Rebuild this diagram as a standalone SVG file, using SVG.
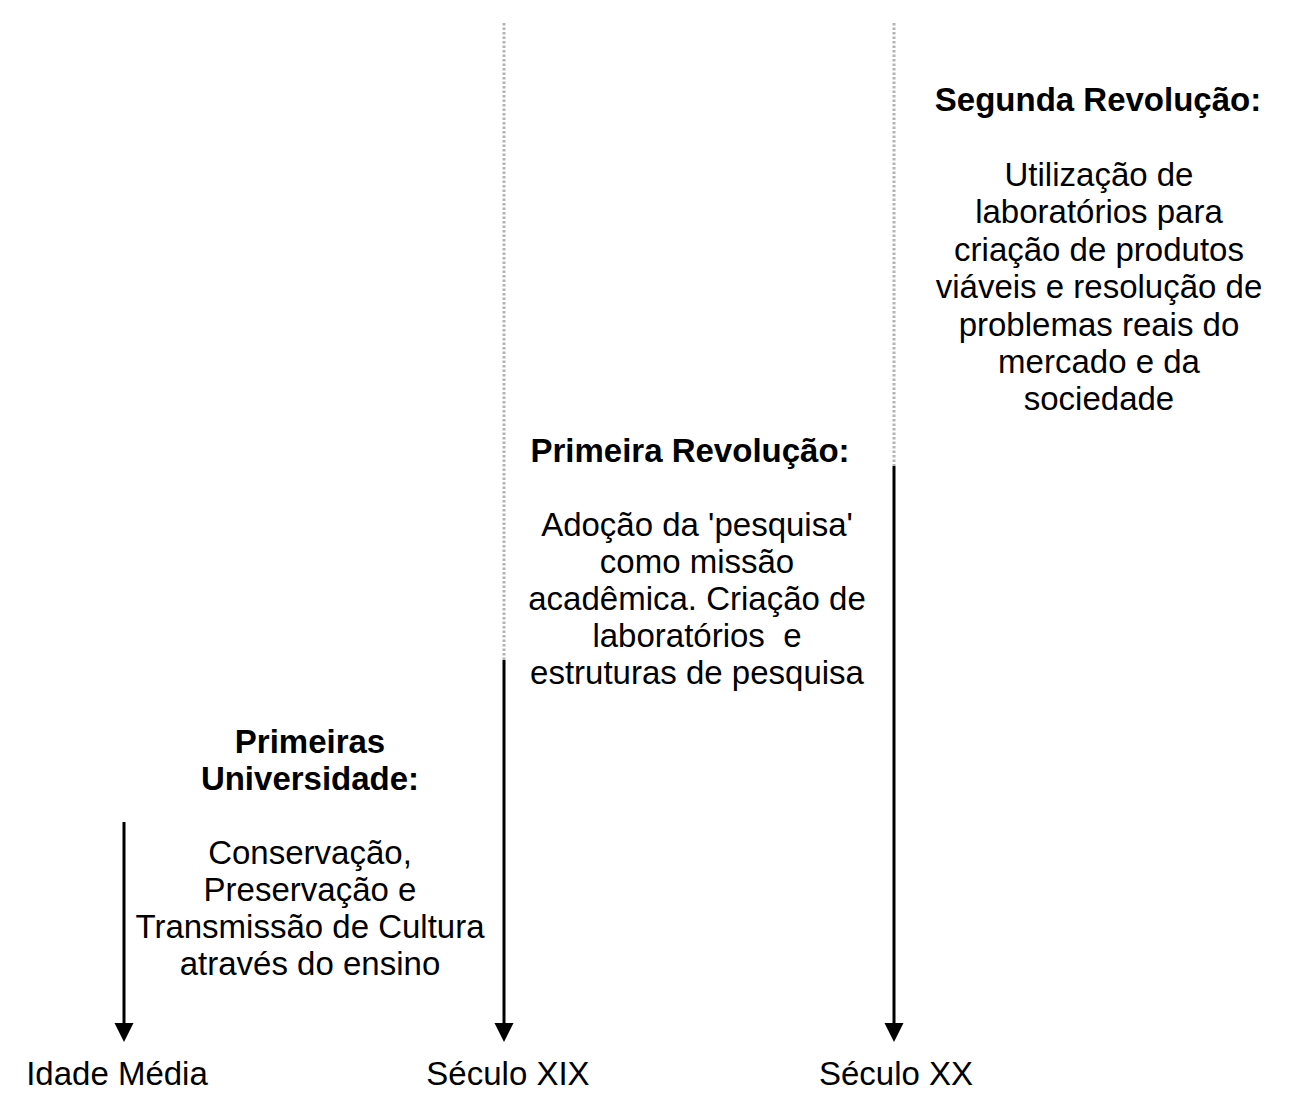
<svg xmlns="http://www.w3.org/2000/svg" width="1310" height="1106" viewBox="0 0 1310 1106">
<style>
text{font-family:"Liberation Sans",Arial,sans-serif;font-size:33px;fill:#000;text-anchor:middle}
.b{font-weight:bold}
.dot{stroke:#b4b4b4;stroke-width:3;stroke-dasharray:2.5 2;fill:none}
.sol{stroke:#000;stroke-width:3;fill:none}
</style>
<defs>
<marker id="ah" markerUnits="userSpaceOnUse" markerWidth="20" markerHeight="20" refX="7" refY="10" orient="auto" viewBox="0 0 20 20">
<path d="M0,0.5 L19,10 L0,19.5 Z" fill="#000"/>
</marker>
</defs>
<rect width="1310" height="1106" fill="#fff"/>
<g id="connectors">
<line class="sol" x1="124" y1="822" x2="124" y2="1030" marker-end="url(#ah)"/>
<line class="dot" x1="504" y1="23" x2="504" y2="660"/>
<line class="sol" x1="504" y1="660" x2="504" y2="1030" marker-end="url(#ah)"/>
<line class="dot" x1="894" y1="23" x2="894" y2="466"/>
<line class="sol" x1="894" y1="466" x2="894" y2="1030" marker-end="url(#ah)"/>
</g>
<g id="idade-media"><text x="117" y="1085">Idade Média</text></g>
<g id="seculo-xix"><text x="508" y="1085">Século XIX</text></g>
<g id="seculo-xx"><text x="896" y="1085">Século XX</text></g>
<g id="primeiras-universidades">
<text class="b" x="310" y="753">Primeiras</text>
<text class="b" x="310" y="790">Universidade:</text>
<text x="310" y="864">Conservação,</text>
<text x="310" y="901">Preservação e</text>
<text x="310" y="938">Transmissão de Cultura</text>
<text x="310" y="975">através do ensino</text>
</g>
<g id="primeira-revolucao">
<text class="b" x="690" y="462">Primeira Revolução:</text>
<text x="697" y="536">Adoção da 'pesquisa'</text>
<text x="697" y="573">como missão</text>
<text x="697" y="610">acadêmica. Criação de</text>
<text x="697" y="647" xml:space="preserve">laboratórios  e</text>
<text x="697" y="684">estruturas de pesquisa</text>
</g>
<g id="segunda-revolucao">
<text class="b" x="1098" y="111">Segunda Revolução:</text>
<text x="1099" y="186">Utilização de</text>
<text x="1099" y="223">laboratórios para</text>
<text x="1099" y="261">criação de produtos</text>
<text x="1099" y="298">viáveis e resolução de</text>
<text x="1099" y="336">problemas reais do</text>
<text x="1099" y="373">mercado e da</text>
<text x="1099" y="410">sociedade</text>
</g>
</svg>
